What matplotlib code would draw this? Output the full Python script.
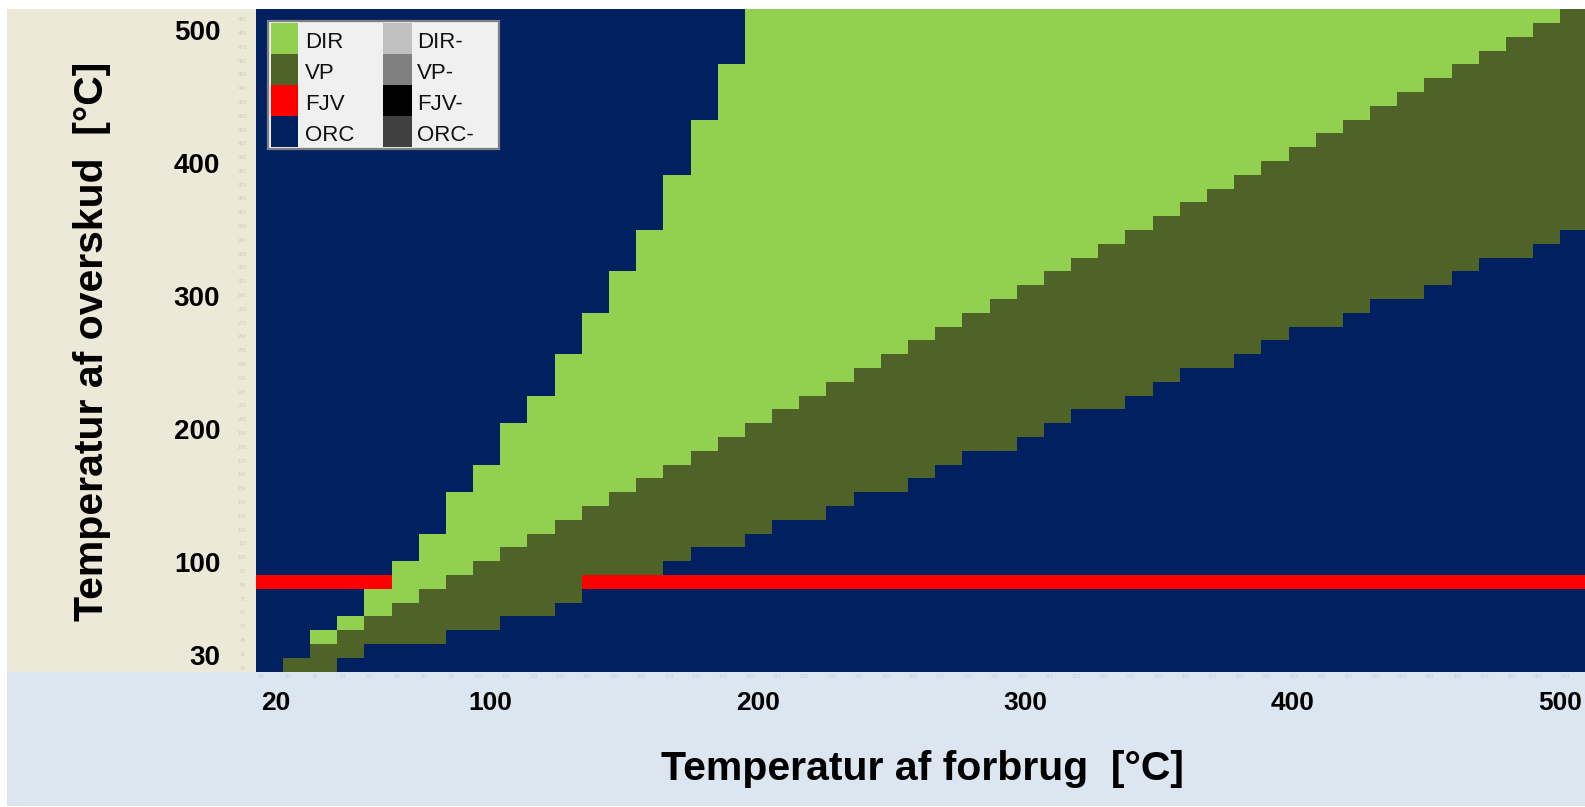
import numpy as np
import matplotlib.pyplot as plt
from matplotlib.colors import ListedColormap
from matplotlib.patches import Rectangle

plt.rcParams['font.family'] = ['Liberation Sans', 'DejaVu Sans']

# consumption temperature (columns) and surplus temperature (rows), degC
consumption = list(range(20, 510, 10))
surplus = list(range(20, 510, 10))

# lowest surplus temperature where a heat pump (VP) is chosen, per column
vp_low = [None, 20, 20, 30, 40, 40, 40, 50, 50, 60, 60, 70, 90, 90, 90, 100,
          110, 110, 120, 130, 130, 140, 150, 150, 160, 170, 180, 180, 190, 200,
          210, 210, 220, 230, 240, 240, 250, 260, 270, 270, 280, 290, 290, 300,
          310, 320, 320, 330, 340]
# highest surplus temperature where direct exchange (DIR) is chosen, per column
dir_high = [None, None, 40, 50, 70, 90, 110, 140, 160, 190, 210, 240, 270, 300,
            330, 370, 410, 450] + [500] * 31
# district heating level
fjv_level = 80

categories = ['DIR', 'VP', 'FJV', 'ORC']
cat_colors = ['#92D050', '#4F6228', '#FF0000', '#002060']
neg_labels = ['DIR-', 'VP-', 'FJV-', 'ORC-']
neg_colors = ['#C0C0C0', '#808080', '#000000', '#404040']

x_major = [20, 100, 200, 300, 400, 500]
y_major = [30, 100, 200, 300, 400, 500]

# build category grid: 0 DIR, 1 VP, 2 FJV, 3 ORC
grid = np.full((len(surplus), len(consumption)), 3)
for j, tc in enumerate(consumption):
    for i, ts in enumerate(surplus):
        if dir_high[j] is not None and tc <= ts <= dir_high[j]:
            grid[i, j] = 0
        elif vp_low[j] is not None and vp_low[j] <= ts < tc:
            grid[i, j] = 1
        elif ts == fjv_level:
            grid[i, j] = 2

W, H = 1585, 807
fig = plt.figure(figsize=(W / 100, H / 100), dpi=100)
fig.patch.set_facecolor('white')


def fx(px):
    return px / W


def fy(py):
    return 1 - py / H


# panels behind the tick labels
fig.patches.append(Rectangle((fx(7), fy(671.5)), fx(256 - 7), fy(9.3) - fy(671.5),
                             transform=fig.transFigure, facecolor='#ECE9D8',
                             edgecolor='none', zorder=-2))
fig.patches.append(Rectangle((fx(7), fy(806)), fx(W - 7), fy(671.5) - fy(806),
                             transform=fig.transFigure, facecolor='#DCE6F1',
                             edgecolor='none', zorder=-2))

ax = fig.add_axes([fx(255.7), fy(671.5), fx(49 * 27.18), fy(9.3) - fy(671.5)])
cmap = ListedColormap(cat_colors)
xe = np.arange(len(consumption) + 1) - 0.5
ye = np.arange(len(surplus) + 1) - 0.5
ax.pcolormesh(xe, ye, grid, cmap=cmap, vmin=-0.5, vmax=3.5,
              edgecolors='none', antialiased=False)
ax.set_xlim(-0.5, len(consumption) - 0.5)
ax.set_ylim(-0.5, len(surplus) - 1.5)
for s in ax.spines.values():
    s.set_visible(False)


# major labels follow a linear temperature scale across the grid
def x_label_pos(v):
    return 0.25 + (v - 20) * 47.25 / 480


def y_label_pos(v):
    return 0.7 + (v - 30) * 45.3 / 470


ax.set_xticks([x_label_pos(v) for v in x_major], [str(v) for v in x_major])
ax.set_yticks([y_label_pos(v) for v in y_major], [str(v) for v in y_major])
ax.tick_params(axis='x', length=0, pad=14, labelsize=19)
ax.tick_params(axis='y', length=0, pad=25.5, labelsize=20)
for lab in ax.get_xticklabels() + ax.get_yticklabels():
    lab.set_fontweight('bold')

# faint per-cell labels along both axes
for i, ts in enumerate(surplus[:-1]):
    ax.text(-0.0098, i - 0.25, str(ts), transform=ax.get_yaxis_transform(),
            fontsize=4, color='#D3CDB8', ha='center', va='center')
for j, tc in enumerate(consumption):
    ax.text(j - 0.3, -0.007, str(tc), transform=ax.get_xaxis_transform(),
            fontsize=4, color='#BFD0E6', ha='center', va='center')

fig.text(fx(922), fy(780), 'Temperatur af forbrug  [°C]', fontsize=29.5,
         fontweight='bold', ha='center', va='baseline')
fig.text(fx(103), fy(341), 'Temperatur af overskud  [°C]', fontsize=29.5,
         fontweight='bold', ha='center', va='baseline', rotation=90,
         rotation_mode='anchor')

# legend: two columns of swatches
fig.patches.append(Rectangle((fx(268.3), fy(149.3)), fx(499 - 268.3), fy(21.3) - fy(149.3),
                             transform=fig.transFigure, facecolor='#F0F0F0',
                             edgecolor='#7F7F7F', linewidth=1.6, zorder=5))
row_h = 31
for k in range(4):
    top = 22.7 + k * row_h
    for sx, sw, tx, lab, col in [(270.7, 27.6, 305, categories[k], cat_colors[k]),
                                 (382.7, 29.6, 417, neg_labels[k], neg_colors[k])]:
        fig.patches.append(Rectangle((fx(sx), fy(top + row_h)), fx(sw), fy(top) - fy(top + row_h),
                                     transform=fig.transFigure, facecolor=col,
                                     edgecolor='none', zorder=6))
        fig.text(fx(tx), fy(top + 25.6), lab, fontsize=16, ha='left',
                 va='baseline', color='#111111', zorder=7)

fig.savefig('out.png', dpi=100)
